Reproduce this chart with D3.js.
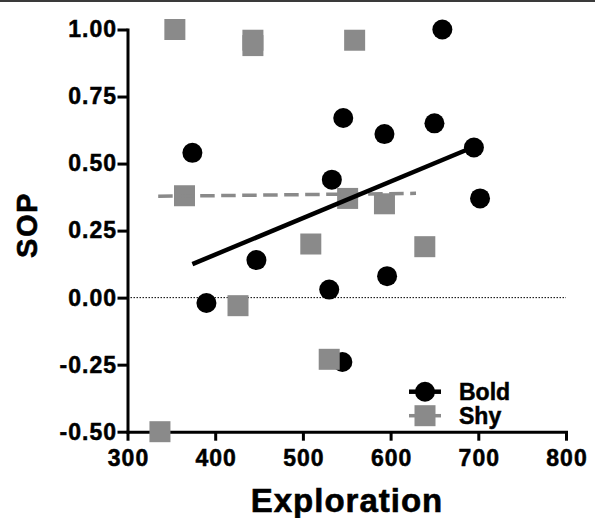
<!DOCTYPE html>
<html><head><meta charset="utf-8">
<script src="https://cdn.jsdelivr.net/npm/d3@7"></script>
<style>
html,body{margin:0;padding:0;background:#fff;}
svg{display:block;font-family:"Liberation Sans",Arial,sans-serif;font-weight:bold;}
</style></head>
<body>
<svg id="chart" width="595" height="518"></svg>
<script>
// Data
const boldX = [374, 390, 447, 530, 545, 596, 659, 546, 593, 650, 695, 702, 533];
const boldY = [0.54, -0.02, 0.14, 0.03, -0.24, 0.08, 1.00, 0.67, 0.61, 0.65, 0.56, 0.37, 0.44];
const shyX = [354, 443, 443, 559, 365, 551, 593, 509, 639, 426, 530, 337];
const shyY = [1.00, 0.96, 0.94, 0.96, 0.38, 0.37, 0.35, 0.20, 0.19, -0.03, -0.23, -0.50];
const boldFitX = [374, 702];
const boldFitY = [0.125, 0.572];
const shyFitX = [335, 629];
const shyFitY = [0.378, 0.389];
const xTicks = [300, 400, 500, 600, 700, 800];
const yTicks = [-0.50, -0.25, 0.00, 0.25, 0.50, 0.75, 1.00];
const seriesNames = ["Bold", "Shy"];
const grey = "#8a8a8a";

const svg = d3.select("#chart");
const x = d3.scaleLinear().domain([300, 800]).range([127.5, 566]);
const y = d3.scaleLinear().domain([-0.5, 1.0]).range([431.7, 29.5]);

// top frame line
svg.append("rect").attr("x", 0).attr("y", 0).attr("width", 595).attr("height", 2).attr("fill", "#3a3a3a");

// zero reference line
svg.append("line")
  .attr("x1", x(300)).attr("x2", x(800)).attr("y1", y(0)).attr("y2", y(0))
  .attr("stroke", "#000").attr("stroke-width", 1).attr("stroke-dasharray", "1.5,1.5");

// axes
const fmtY = d => d3.format(".2f")(d).replace("\u2212", "-");
const yAxis = d3.axisLeft(y).tickValues(yTicks).tickFormat(fmtY)
  .tickSize(10).tickSizeOuter(0).tickPadding(1.5);
const xAxis = d3.axisBottom(x).tickValues(xTicks).tickFormat(d3.format("d"))
  .tickSize(9).tickSizeOuter(0).tickPadding(9.3);

const gy = svg.append("g").attr("transform", `translate(${x(300)},0)`).call(yAxis);
const gx = svg.append("g").attr("transform", `translate(0,${y(-0.5)})`).call(xAxis);
[gx, gy].forEach(g => {
  g.select(".domain").attr("stroke", "#000").attr("stroke-width", 3).attr("stroke-linecap", "square");
  g.selectAll(".tick line").attr("stroke", "#000").attr("stroke-width", 3);
  g.selectAll(".tick text").attr("fill", "#000").attr("stroke", "#000").attr("stroke-width", 0.5)
    .style("font-family", '"Liberation Sans",Arial,sans-serif')
    .style("font-weight", "bold").style("font-size", "23px").style("letter-spacing", "1px");
});
gy.selectAll(".tick text").attr("dx", "1px");
gx.selectAll(".tick text").attr("dx", "0.5px");

// bold points
svg.append("g").selectAll("circle").data(boldX.map((d, i) => [d, boldY[i]])).join("circle")
  .attr("cx", d => x(d[0])).attr("cy", d => y(d[1])).attr("r", 10).attr("fill", "#000");

// shy points
const sq = 21;
svg.append("g").selectAll("rect").data(shyX.map((d, i) => [d, shyY[i]])).join("rect")
  .attr("x", d => x(d[0]) - sq / 2).attr("y", d => y(d[1]) - sq / 2)
  .attr("width", sq).attr("height", sq).attr("fill", grey);

// fit lines
const line = d3.line().x(d => x(d[0])).y(d => y(d[1]));
svg.append("path").datum(shyFitX.map((d, i) => [d, shyFitY[i]])).attr("d", line)
  .attr("fill", "none").attr("stroke", grey).attr("stroke-width", 3.5).attr("stroke-dasharray", "14.5,6.5");
svg.append("path").datum(boldFitX.map((d, i) => [d, boldFitY[i]])).attr("d", line)
  .attr("fill", "none").attr("stroke", "#000").attr("stroke-width", 4.5);

// axis titles
svg.append("text").attr("transform", "translate(36.5,225) rotate(-90)")
  .attr("text-anchor", "middle").style("font-size", "29px").style("letter-spacing", "1.5px")
  .attr("fill", "#000").attr("stroke", "#000").attr("stroke-width", 0.6).text("SOP");
svg.append("text").attr("x", 347).attr("y", 512).attr("text-anchor", "middle")
  .style("font-size", "33px").style("letter-spacing", "1px")
  .attr("fill", "#000").attr("stroke", "#000").attr("stroke-width", 0.6).text("Exploration");

// legend
const lg = svg.append("g");
const lx = 425, ly = [391.7, 415.7];
lg.append("line").attr("x1", lx - 16).attr("x2", lx + 16).attr("y1", ly[0]).attr("y2", ly[0])
  .attr("stroke", "#000").attr("stroke-width", 4.5);
lg.append("circle").attr("cx", lx).attr("cy", ly[0]).attr("r", 10).attr("fill", "#000");
lg.append("line").attr("x1", lx - 16).attr("x2", lx + 16).attr("y1", ly[1]).attr("y2", ly[1])
  .attr("stroke", grey).attr("stroke-width", 3.5);
lg.append("rect").attr("x", lx - sq / 2).attr("y", ly[1] - sq / 2).attr("width", sq).attr("height", sq).attr("fill", grey);
lg.selectAll("text").data(seriesNames).join("text")
  .attr("x", 459).attr("y", (d, i) => ly[i] + 8)
  .style("font-size", "23px").attr("fill", "#000").attr("stroke", "#000").attr("stroke-width", 0.5)
  .text(d => d);
</script>
</body></html>
